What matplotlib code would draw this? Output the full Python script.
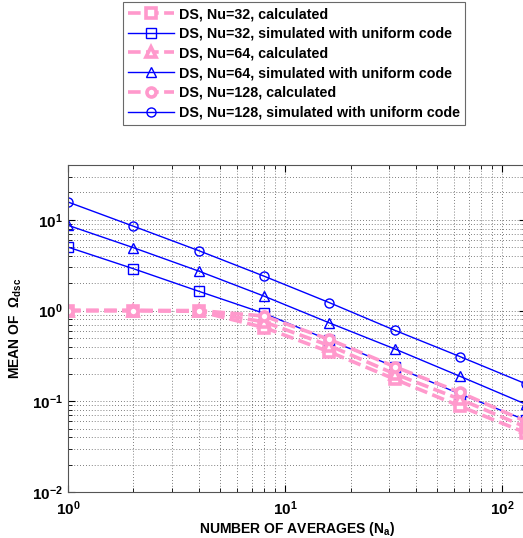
import matplotlib
matplotlib.use("Agg")
import matplotlib.pyplot as plt
from matplotlib.ticker import LogLocator, NullFormatter

plt.rcParams['font.family'] = ['Liberation Sans', 'DejaVu Sans']
plt.rcParams['font.weight'] = 'bold'
plt.rcParams['mathtext.default'] = 'regular'

N = [1, 2, 4, 8, 16, 32, 64, 128]

calc_32 = [1.0, 1.0, 0.98, 0.65, 0.35, 0.175, 0.088, 0.045]
sim_32 = [5.0, 2.89, 1.63, 0.93, 0.47, 0.24, 0.12, 0.062]
calc_64 = [1.0, 1.0, 0.99, 0.75, 0.41, 0.20, 0.105, 0.052]
sim_64 = [8.7, 4.93, 2.72, 1.44, 0.73, 0.377, 0.188, 0.093]
calc_128 = [1.0, 1.0, 1.0, 0.87, 0.48, 0.24, 0.125, 0.06]
sim_128 = [15.7, 8.5, 4.57, 2.39, 1.22, 0.605, 0.31, 0.156]

labels = [
    "DS, Nu=32, calculated",
    "DS, Nu=32, simulated with uniform code",
    "DS, Nu=64, calculated",
    "DS, Nu=64, simulated with uniform code",
    "DS, Nu=128, calculated",
    "DS, Nu=128, simulated with uniform code",
]

pink = "#ff99cc"
blue = "#0000ff"

fig = plt.figure(figsize=(5.23, 5.38), dpi=100)
ax = fig.add_axes([0.130, 0.0855, 0.875, 0.6075])

calc_kw = dict(color=pink, linestyle='--', linewidth=2.6, markersize=6.5,
               markeredgewidth=2.6, markerfacecolor='white', markeredgecolor=pink, dashes=(3.5, 1.5))
sim_kw = dict(color=blue, linestyle='-', linewidth=1.0, markersize=6.5,
              markeredgewidth=1.0, markerfacecolor='none', markeredgecolor=blue)

handles = []
handles += ax.plot(N, calc_32, marker='s', label=labels[0], **calc_kw)
handles += ax.plot(N, sim_32, marker='s', label=labels[1], **sim_kw)
handles += ax.plot(N, calc_64, marker='^', label=labels[2], **calc_kw)
handles += ax.plot(N, sim_64, marker='^', label=labels[3], **sim_kw)
handles += ax.plot(N, calc_128, marker='o', label=labels[4], **calc_kw)
handles += ax.plot(N, sim_128, marker='o', label=labels[5], **sim_kw)

ax.set_xscale('log')
ax.set_yscale('log')
ax.set_xlim(1, 128)
ax.set_ylim(1e-2, 40)

ax.xaxis.set_major_locator(LogLocator(base=10, numticks=10))
ax.yaxis.set_major_locator(LogLocator(base=10, numticks=10))
ax.xaxis.set_minor_locator(LogLocator(base=10, subs=range(2, 10), numticks=20))
ax.yaxis.set_minor_locator(LogLocator(base=10, subs=range(2, 10), numticks=20))
ax.xaxis.set_minor_formatter(NullFormatter())
ax.yaxis.set_minor_formatter(NullFormatter())

ax.grid(True, which='both', linestyle=(0, (1, 2.5)), color='#555555', linewidth=0.6)
ax.tick_params(which='both', direction='in', top=True, right=True, labelsize=11)
ax.tick_params(which='major', length=5)
ax.tick_params(which='minor', length=3)
ax.tick_params(axis='x', pad=5)
for s in ax.spines.values():
    s.set_color('#555555')

ax.set_xlabel("NUMBER OF AVERAGES (N$_a$)", fontsize=10, fontweight='bold', labelpad=2)
ax.set_ylabel("MEAN OF  $\\Omega_{dsc}$", fontsize=10, fontweight='bold', labelpad=6)

leg = fig.legend(handles=handles, loc='upper left', bbox_to_anchor=(123/523, 1 - 2/538),
                 prop={'size': 10.3, 'weight': 'bold'}, frameon=True, fancybox=False,
                 edgecolor='#444444', handlelength=3.2, labelspacing=0.4, borderpad=0.35,
                 handletextpad=0.35, borderaxespad=0)
leg.get_frame().set_linewidth(0.8)

fig.savefig("out.png", dpi=100)
